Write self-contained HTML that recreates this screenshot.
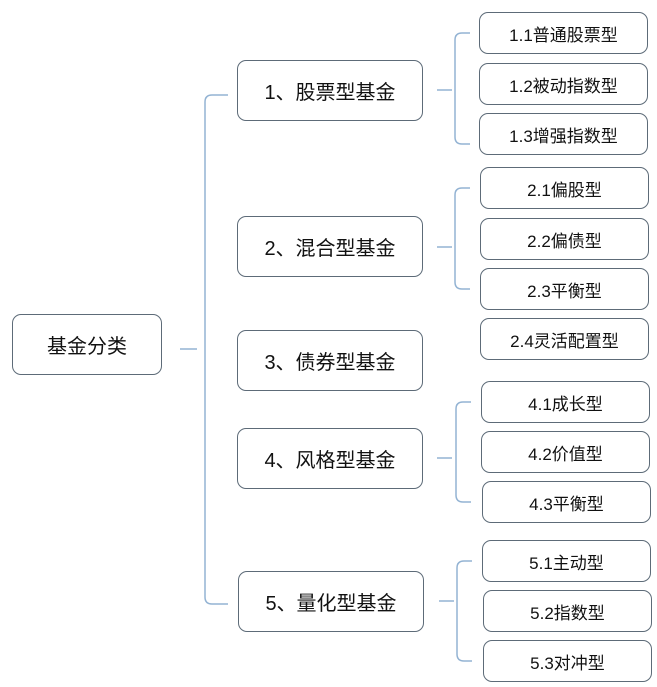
<!DOCTYPE html>
<html><head><meta charset="utf-8"><style>
body{margin:0;width:657px;height:687px;background:#fff;position:relative;overflow:hidden;font-family:"Liberation Sans","Noto Sans CJK SC",sans-serif;color:#111}
.b{position:absolute;box-sizing:border-box;border:1.5px solid #5d6b78;border-radius:9px;background:#fff;display:flex;align-items:center;justify-content:center;white-space:nowrap}
.l1{font-size:20px}.l2{font-size:17px}
svg{position:absolute;left:0;top:0}
</style></head><body>
<svg width="657" height="687" fill="none" stroke="#93b3d3" stroke-width="1.5">
<path d="M180 349 H197 M228 95 H212 Q205 95 205 102 V597 Q205 604 212 604 H228"/>
<path d="M437 90 H452 M470 33 H462 Q455 33 455 40 V137 Q455 144 462 144 H470"/>
<path d="M437 247 H452 M470 188 H462 Q455 188 455 195 V282 Q455 289 462 289 H470"/>
<path d="M437 458 H452 M471 402 H463 Q456 402 456 409 V495 Q456 502 463 502 H471"/>
<path d="M439 601 H454 M472 561 H464 Q457 561 457 568 V654 Q457 661 464 661 H472"/>
</svg>
<div class="b l1" style="left:12px;top:314px;width:150px;height:61px">基金分类</div>
<div class="b l1" style="left:237px;top:60px;width:186px;height:61px">1、股票型基金</div>
<div class="b l1" style="left:237px;top:216px;width:186px;height:61px">2、混合型基金</div>
<div class="b l1" style="left:237px;top:330px;width:186px;height:61px">3、债券型基金</div>
<div class="b l1" style="left:237px;top:428px;width:186px;height:61px">4、风格型基金</div>
<div class="b l1" style="left:238px;top:571px;width:186px;height:61px">5、量化型基金</div>
<div class="b l2" style="left:479px;top:12px;width:169px;height:42px">1.1普通股票型</div>
<div class="b l2" style="left:479px;top:63px;width:169px;height:42px">1.2被动指数型</div>
<div class="b l2" style="left:479px;top:113px;width:169px;height:42px">1.3增强指数型</div>
<div class="b l2" style="left:480px;top:167px;width:169px;height:42px">2.1偏股型</div>
<div class="b l2" style="left:480px;top:218px;width:169px;height:42px">2.2偏债型</div>
<div class="b l2" style="left:480px;top:268px;width:169px;height:42px">2.3平衡型</div>
<div class="b l2" style="left:480px;top:318px;width:169px;height:42px">2.4灵活配置型</div>
<div class="b l2" style="left:481px;top:381px;width:169px;height:42px">4.1成长型</div>
<div class="b l2" style="left:481px;top:431px;width:169px;height:42px">4.2价值型</div>
<div class="b l2" style="left:482px;top:481px;width:169px;height:42px">4.3平衡型</div>
<div class="b l2" style="left:482px;top:540px;width:169px;height:42px">5.1主动型</div>
<div class="b l2" style="left:483px;top:590px;width:169px;height:42px">5.2指数型</div>
<div class="b l2" style="left:483px;top:640px;width:169px;height:42px">5.3对冲型</div>
</body></html>
